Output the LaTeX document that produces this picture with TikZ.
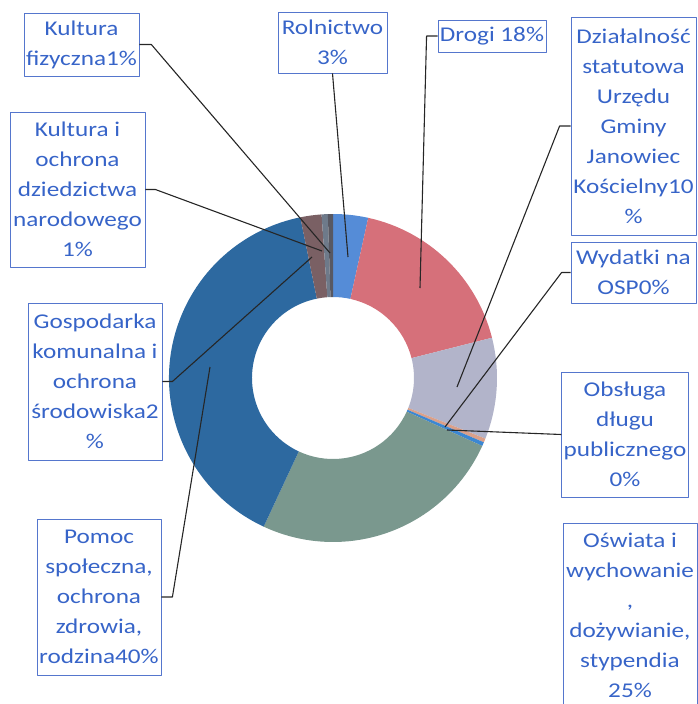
\documentclass[tikz,border=0pt]{standalone}
\usepackage{fontspec}
\setmainfont{Carlito}[FakeStretch=1.2]

\definecolor{txtblue}{RGB}{55,100,200}
\definecolor{boxblue}{RGB}{85,118,205}
\definecolor{cRoln}{RGB}{85,140,215}
\definecolor{cDrogi}{RGB}{214,112,122}
\definecolor{cDzial}{RGB}{178,180,202}
\definecolor{cOsp}{RGB}{218,160,138}
\definecolor{cDlug}{RGB}{60,135,210}
\definecolor{cOsw}{RGB}{122,152,142}
\definecolor{cPomoc}{RGB}{45,105,160}
\definecolor{cGosp}{RGB}{122,96,100}
\definecolor{cKult}{RGB}{110,122,138}
\definecolor{cKfiz}{RGB}{88,88,98}

\begin{document}
\begin{tikzpicture}[
            x = 1pt, y = -1pt, % pixel grid, y goes down
            line join = round,
            semithick % line style
        ]

        \tikzstyle{lbl}=[
            draw = boxblue,
            line width = 0.8pt,
            text = txtblue,
            align = center,
            inner sep = 2pt,
            font = \fontsize{21}{30}\selectfont
        ]
        \tikzstyle{leader}=[
            draw = black!85,
            line width = 1.1pt
        ]

        \useasboundingbox (0,0) rectangle (697,704);

        % the ring, clockwise from the top
        \begin{scope}[shift={(333,378)}]
            \fill[cRoln]  (-90:164) arc (-90:-77.6:164) -- (-77.6:81) arc (-77.6:-90:81) -- cycle;
            \fill[cDrogi] (-77.6:164) arc (-77.6:-14.2:164) -- (-14.2:81) arc (-14.2:-77.6:81) -- cycle;
            \fill[cDzial] (-14.2:164) arc (-14.2:21.7:164) -- (21.7:81) arc (21.7:-14.2:81) -- cycle;
            \fill[cOsp]   (21.7:164) arc (21.7:23.1:164) -- (23.1:81) arc (23.1:21.7:81) -- cycle;
            \fill[cDlug]  (23.1:164) arc (23.1:24.5:164) -- (24.5:81) arc (24.5:23.1:81) -- cycle;
            \fill[cOsw]   (24.5:164) arc (24.5:115:164) -- (115:81) arc (115:24.5:81) -- cycle;
            \fill[cPomoc] (115:164) arc (115:258.5:164) -- (258.5:81) arc (258.5:115:81) -- cycle;
            \fill[cGosp]  (258.5:164) arc (258.5:266:164) -- (266:81) arc (266:258.5:81) -- cycle;
            \fill[cKult]  (266:164) arc (266:268.2:164) -- (268.2:81) arc (268.2:266:81) -- cycle;
            \fill[cKfiz]  (268.2:164) arc (268.2:270:164) -- (270:81) arc (270:268.2:81) -- cycle;
        \end{scope}

        \node (kfiz) [lbl, minimum width=113pt, minimum height=63pt] at (81.5,44.5) {Kultura\\fizyczna1\%};
        \node (kult) [lbl, minimum width=135pt, minimum height=155pt] at (77.5,189.5) {Kultura i\\ochrona\\dziedzictwa\\narodowego\\1\%};
        \node (roln) [lbl, minimum width=109pt, minimum height=61pt] at (332.5,42.5) {Rolnictwo\\3\%};
        \node (drogi) [lbl, minimum width=108pt, minimum height=32pt] at (492,36) {Drogi 18\%};
        \node (dzial) [lbl, minimum width=125pt, minimum height=218pt] at (633.5,126) {Działalność\\statutowa\\Urzędu\\Gminy\\Janowiec\\Kościelny10\\\%};
        \node (osp) [lbl, minimum width=125pt, minimum height=61pt] at (633.5,272.5) {Wydatki na\\OSP0\%};
        \node (dlug) [lbl, minimum width=126pt, minimum height=125pt] at (625,434.5) {Obsługa\\długu\\publicznego\\0\%};
        \node (osw) [lbl, minimum width=134pt, minimum height=184pt, anchor=north] at (630,523) {Oświata i\\wychowanie\\,\\dożywianie,\\stypendia\\25\%};
        \node (gosp) [lbl, minimum width=134pt, minimum height=157pt] at (95,381.5) {Gospodarka\\komunalna i\\ochrona\\środowiska2\\\%};
        \node (pomoc) [lbl, minimum width=124pt, minimum height=156pt] at (99,597) {Pomoc\\społeczna,\\ochrona\\zdrowia,\\rodzina40\%};

        % ends of the leader lines, inside the slices
        \coordinate (pKfiz) at (330,253);
        \coordinate (pKult) at (322,251);
        \coordinate (pRoln) at (348,257);
        \coordinate (pDrogi) at (420,288);
        \coordinate (pDzial) at (457,387);
        \coordinate (pOsp) at (445,427);
        \coordinate (pDlug) at (447,430);
        \coordinate (pGosp) at (312,257);
        \coordinate (pPomoc) at (210,367);

        \draw[leader] (kfiz.east) -- ++(12,0) -- (pKfiz);
        \draw[leader] (kult.east) -- ++(10,0) -- (pKult);
        \draw[leader] (roln.south) -- (pRoln);
        \draw[leader] (drogi.west) -- ++(-11,0) -- (pDrogi);
        \draw[leader] (dzial.west) -- ++(-11,0) -- (pDzial);
        \draw[leader] (osp.west) -- ++(-9,0) -- (pOsp);
        \draw[leader] (dlug.west) -- (pDlug);
        \draw[leader] (gosp.east) -- ++(10,0) -- (pGosp);
        \draw[leader] (pomoc.east) -- ++(11,0) -- (pPomoc);

    \end{tikzpicture}
\end{document}
